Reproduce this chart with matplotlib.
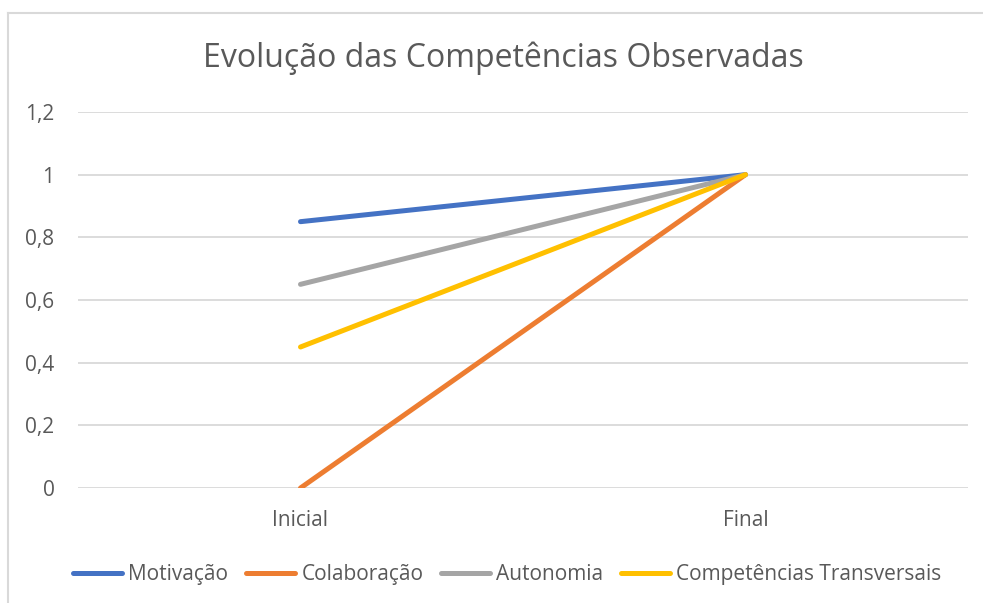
import matplotlib.pyplot as plt
from matplotlib.lines import Line2D

categories = ['Inicial', 'Final']
series_names = ['Motivação', 'Colaboração', 'Autonomia', 'Competências Transversais']
motivacao = [0.85, 1.0]
colaboracao = [0.0, 1.0]
autonomia = [0.65, 1.0]
transversais = [0.45, 1.0]
colors = ['#4472C4', '#ED7D31', '#A5A5A5', '#FFC000']
yticks = [0, 0.2, 0.4, 0.6, 0.8, 1.0, 1.2]
ytick_labels = ['0', '0,2', '0,4', '0,6', '0,8', '1', '1,2']

plt.rcParams['font.family'] = ['Open Sans', 'DejaVu Sans']
text_color = '#595959'
W, H = 983, 603

fig = plt.figure(figsize=(W / 100, H / 100), dpi=100)
ax = fig.add_axes([78 / W, 1 - 488 / H, 890 / W, 376 / H])

x = list(range(len(categories)))
for vals, name, c in zip([motivacao, colaboracao, autonomia, transversais], series_names, colors):
    ax.plot(x, vals, color=c, lw=3.6, solid_capstyle='round', label=name, zorder=3)

ax.set_xlim(-0.5, 1.5)
ax.set_ylim(0, 1.2)
ax.set_yticks(yticks)
ax.set_yticklabels(ytick_labels)
ax.set_xticks(x)
ax.set_xticklabels(categories)
ax.grid(axis='y', color='#D9D9D9', lw=1.3)
ax.set_axisbelow(True)
for s in ax.spines.values():
    s.set_visible(False)
ax.tick_params(axis='both', length=0, labelsize=15, colors=text_color)
ax.tick_params(axis='y', pad=17)
ax.tick_params(axis='x', pad=16)

fig.text(503 / W, 1 - 58 / H, 'Evolução das Competências Observadas',
         ha='center', va='center', fontsize=23, color=text_color)

# legend laid out by hand so that all labels share one baseline
renderer = fig.canvas.get_renderer()
handle_px, gap_px, col_px = 55, 3, 15
line_y, base_y = 1 - 573 / H, 1 - 580 / H
labels = [fig.text(0, base_y, n, fontsize=15, color=text_color, va='baseline', ha='left')
          for n in series_names]
widths = [t.get_window_extent(renderer).width for t in labels]
total = sum(handle_px + gap_px + w for w in widths) + col_px * (len(widths) - 1)
cur = 506 - total / 2
for t, w, c in zip(labels, widths, colors):
    fig.add_artist(Line2D([(cur + 3) / W, (cur + handle_px - 3) / W], [line_y, line_y],
                          color=c, lw=3.6, solid_capstyle='round', transform=fig.transFigure))
    t.set_x((cur + handle_px + gap_px) / W)
    cur += handle_px + gap_px + w + col_px

# chart border (Excel chart area)
fig.add_artist(Line2D([8 / W, 8 / W], [0, 1 - 13 / H], color='#D9D9D9', lw=1.5,
                      transform=fig.transFigure))
fig.add_artist(Line2D([8 / W, 1], [1 - 13 / H, 1 - 13 / H], color='#D9D9D9', lw=1.5,
                      transform=fig.transFigure))

fig.savefig('out.png', dpi=100)
